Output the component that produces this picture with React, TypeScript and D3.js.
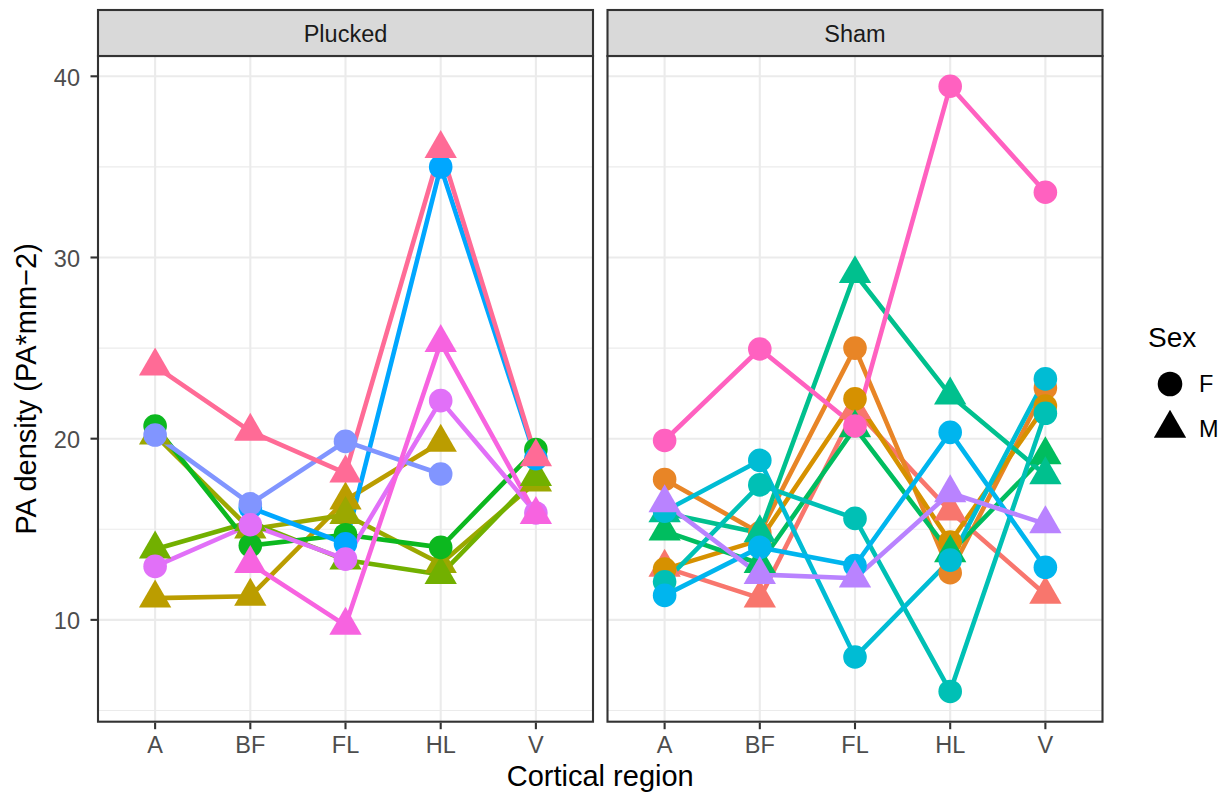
import React, { useRef, useEffect } from 'react';
import * as d3 from 'd3';

const regions = ['A', 'BF', 'FL', 'HL', 'V'];
const treatments = ['Plucked', 'Sham'];
const sexes = ['F', 'M'];

// one entry per animal, in colour (factor level) order
const animalIds = ['M01', 'M02', 'M03', 'M04', 'M05', 'M06', 'M07', 'M08', 'M09', 'M10',
  'M11', 'M12', 'M13', 'M14', 'M15', 'M16', 'M17', 'M18', 'M19'];
const animalGroup = ['Sham', 'Sham', 'Sham', 'Plucked', 'Plucked', 'Plucked', 'Plucked', 'Sham', 'Sham', 'Sham',
  'Sham', 'Sham', 'Plucked', 'Plucked', 'Sham', 'Plucked', 'Plucked', 'Sham', 'Plucked'];
const animalSex = ['M', 'F', 'F', 'M', 'M', 'M', 'F', 'M', 'M', 'F', 'F', 'F', 'F', 'F', 'M', 'F', 'M', 'F', 'M'];

// PA density per region (null = not measured)
const densityA = [12.9, 17.75, 12.8, 11.2, 20.2, 13.9, 20.7, 14.9, 15.9, 12.1, 16.0, 11.35, null, 20.2, 16.45, 12.95, null, 19.9, 24.0];
const densityBF = [11.2, 14.8, 14.4, 11.3, 15.0, 15.4, 14.1, 13.1, 14.8, 17.45, 18.8, 14.0, 16.2, 16.4, 12.5, 15.25, 13.1, 24.95, 20.4];
const densityFL = [21.6, 25.0, 22.2, 16.6, 15.8, 13.3, 14.7, 20.6, 29.1, 15.6, 7.95, 13.0, 14.2, 19.85, 12.3, 13.35, 9.7, 20.7, 18.1];
const densityHL = [16.0, 12.6, 14.3, 19.8, 13.1, 12.5, 14.0, 13.7, 22.4, 6.05, 13.3, 20.35, 35.0, 18.05, 17.0, 22.1, 25.3, 39.45, 36.0];
const densityV = [11.4, 22.8, 21.8, null, 17.6, 17.9, 19.4, 19.1, 18.0, 21.4, 23.3, 12.9, 18.9, null, 15.3, 15.9, 15.8, 33.6, 19.0];

const yTicks = [10, 20, 30, 40];
const yMinor = [5, 15, 25, 35];

// ggplot hue palette, 19 levels
const palette = ['#F8766D', '#E88526', '#D69100', '#BB9D00', '#9BA800', '#72B000', '#0CB81F', '#00BD5F', '#00C08E',
  '#00C0B5', '#00BCD4', '#00B5EE', '#00A7FF', '#8195FF', '#B983FF', '#E170F8', '#F763E0', '#FF61C0', '#FF6B96'];

const width = 1225;
const height = 793;
const panelTop = 56;
const panelBottom = 721.7;
const stripTop = 10;
const panels = [
  { left: 98, right: 593 },
  { left: 607.5, right: 1102.5 },
];
const font = '"Liberation Sans", Arial, Helvetica, sans-serif';

type Pt = { region: string; value: number | null };

// R's pch 17 triangle around (cx, cy)
const tri = (cx: number, cy: number, s: number) => {
  const top = 1.5551 * s;
  const hw = 1.3468 * s;
  const bot = 0.7776 * s;
  return `M${cx},${cy - top}L${cx + hw},${cy + bot}L${cx - hw},${cy + bot}Z`;
};

const App: React.FC = () => {
  const ref = useRef<SVGSVGElement>(null);

  useEffect(() => {
    document.body.style.margin = '0';
    const svg = d3.select(ref.current);
    svg.selectAll('*').remove();

    const byRegion = [densityA, densityBF, densityFL, densityHL, densityV];
    const series = animalIds.map((id, i) => ({
      id,
      group: animalGroup[i],
      sex: animalSex[i],
      color: palette[i],
      pts: regions.map((r, k) => ({ region: r, value: byRegion[k][i] })) as Pt[],
    }));

    const all = byRegion.flat().filter((v): v is number => v != null);
    const [lo, hi] = d3.extent(all) as [number, number];
    const pad = (hi - lo) * 0.05;
    const y = d3.scaleLinear().domain([lo - pad, hi + pad]).range([panelBottom, panelTop]);

    treatments.forEach((t, pi) => {
      const p = panels[pi];
      const x = d3.scalePoint<string>().domain(regions).range([p.left, p.right]).padding(0.6);
      const g = svg.append('g');

      g.append('rect')
        .attr('x', p.left).attr('y', panelTop)
        .attr('width', p.right - p.left).attr('height', panelBottom - panelTop)
        .attr('fill', '#fff');

      // grid
      g.selectAll('.minor').data(yMinor).join('line')
        .attr('x1', p.left).attr('x2', p.right)
        .attr('y1', (d) => y(d)).attr('y2', (d) => y(d))
        .attr('stroke', '#EBEBEB').attr('stroke-width', 1.1);
      g.selectAll('.major').data(yTicks).join('line')
        .attr('x1', p.left).attr('x2', p.right)
        .attr('y1', (d) => y(d)).attr('y2', (d) => y(d))
        .attr('stroke', '#EBEBEB').attr('stroke-width', 2.1);
      g.selectAll('.vgrid').data(regions).join('line')
        .attr('x1', (d) => x(d)!).attr('x2', (d) => x(d)!)
        .attr('y1', panelTop).attr('y2', panelBottom)
        .attr('stroke', '#EBEBEB').attr('stroke-width', 2.1);

      const sub = series.filter((s) => s.group === t);
      const line = d3.line<Pt>()
        .defined((d) => d.value != null)
        .x((d) => x(d.region)!)
        .y((d) => y(d.value as number));

      g.selectAll('.ln').data(sub).join('path')
        .attr('d', (s) => line(s.pts))
        .attr('fill', 'none')
        .attr('stroke', (s) => s.color)
        .attr('stroke-width', 4.6)
        .attr('stroke-linejoin', 'round');

      sub.forEach((s) => {
        s.pts.filter((d) => d.value != null).forEach((d) => {
          const cx = x(d.region)!;
          const cy = y(d.value as number);
          if (s.sex === 'F') {
            g.append('circle').attr('cx', cx).attr('cy', cy).attr('r', 11.8).attr('fill', s.color);
          } else {
            g.append('path').attr('d', tri(cx, cy, 12)).attr('fill', s.color);
          }
        });
      });

      // border
      g.append('rect')
        .attr('x', p.left).attr('y', panelTop)
        .attr('width', p.right - p.left).attr('height', panelBottom - panelTop)
        .attr('fill', 'none').attr('stroke', '#333333').attr('stroke-width', 2.1);

      // strip
      g.append('rect')
        .attr('x', p.left).attr('y', stripTop)
        .attr('width', p.right - p.left).attr('height', panelTop - stripTop)
        .attr('fill', '#D9D9D9').attr('stroke', '#333333').attr('stroke-width', 2.1);
      g.append('text')
        .attr('x', (p.left + p.right) / 2).attr('y', 42)
        .attr('text-anchor', 'middle')
        .attr('font-family', font).attr('font-size', 23.5).attr('fill', '#1A1A1A')
        .text(t);

      // x axis
      g.selectAll('.xt').data(regions).join('line')
        .attr('x1', (d) => x(d)!).attr('x2', (d) => x(d)!)
        .attr('y1', panelBottom + 1).attr('y2', panelBottom + 7.5)
        .attr('stroke', '#333333').attr('stroke-width', 2.1);
      g.selectAll('.xl').data(regions).join('text')
        .attr('x', (d) => x(d)!).attr('y', 753)
        .attr('text-anchor', 'middle')
        .attr('font-family', font).attr('font-size', 23.5).attr('fill', '#4D4D4D')
        .text((d) => d);
    });

    // y axis on left panel
    const ya = svg.append('g');
    ya.selectAll('line').data(yTicks).join('line')
      .attr('x1', panels[0].left - 7.5).attr('x2', panels[0].left - 1)
      .attr('y1', (d) => y(d)).attr('y2', (d) => y(d))
      .attr('stroke', '#333333').attr('stroke-width', 2.1);
    ya.selectAll('text').data(yTicks).join('text')
      .attr('x', 80).attr('y', (d) => y(d)).attr('dy', '0.4em')
      .attr('text-anchor', 'end')
      .attr('font-family', font).attr('font-size', 23.5).attr('fill', '#4D4D4D')
      .text((d) => d);

    // titles
    svg.append('text')
      .attr('x', (panels[0].left + panels[1].right) / 2).attr('y', 786)
      .attr('text-anchor', 'middle')
      .attr('font-family', font).attr('font-size', 29).attr('fill', '#000')
      .text('Cortical region');
    svg.append('text')
      .attr('transform', `translate(36,${(panelTop + panelBottom) / 2}) rotate(-90)`)
      .attr('text-anchor', 'middle')
      .attr('font-family', font).attr('font-size', 29).attr('fill', '#000')
      .text('PA density (PA*mm\u22122)');

    // legend
    const lg = svg.append('g');
    lg.append('text').attr('x', 1148).attr('y', 347)
      .attr('font-family', font).attr('font-size', 28).attr('fill', '#000').text('Sex');
    const keyY = [384, 428.5];
    sexes.forEach((s, i) => {
      if (s === 'F') {
        lg.append('circle').attr('cx', 1170).attr('cy', keyY[i]).attr('r', 12.3).attr('fill', '#000');
      } else {
        lg.append('path').attr('d', tri(1170, keyY[i], 12)).attr('fill', '#000');
      }
      lg.append('text').attr('x', 1199).attr('y', keyY[i]).attr('dy', '0.36em')
        .attr('font-family', font).attr('font-size', 23.5).attr('fill', '#000').text(s);
    });
  }, []);

  return <svg ref={ref} width={width} height={height} style={{ display: 'block', background: '#fff' }} />;
};

export default App;
